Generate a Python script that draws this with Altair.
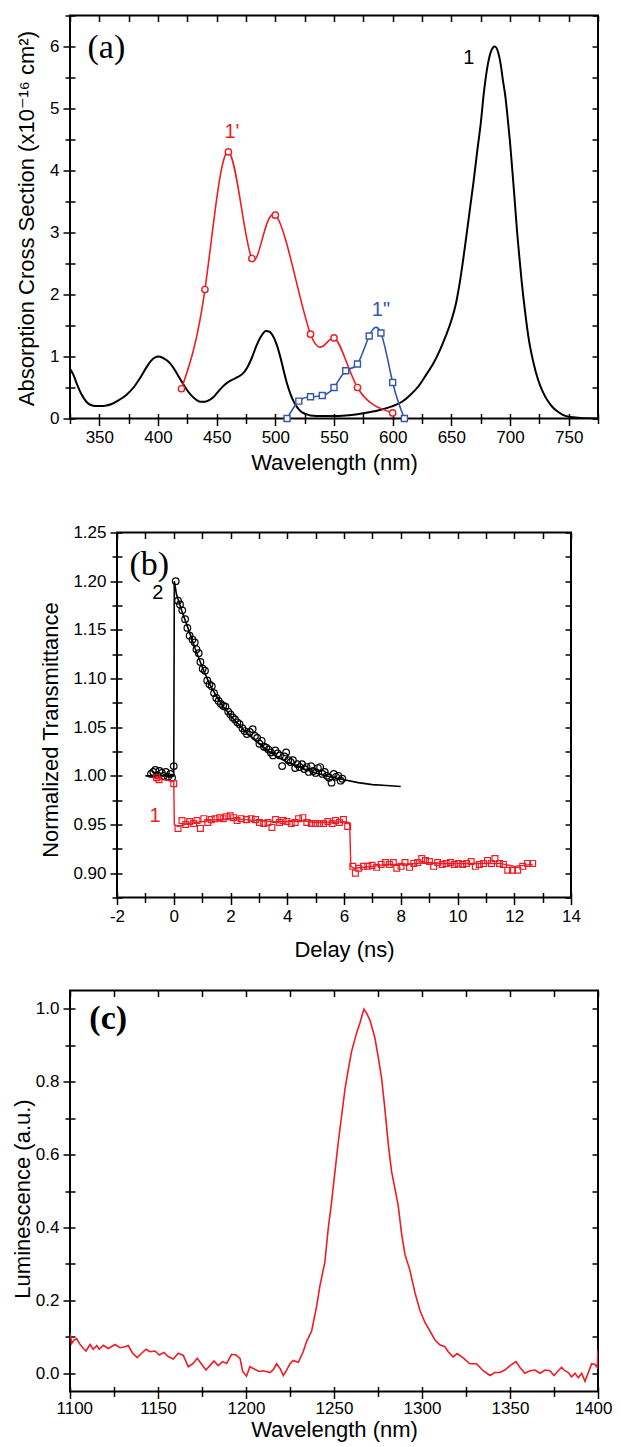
import altair as alt
import pandas as pd

FONT = "Liberation Sans, DejaVu Sans"
SERIF = "Liberation Serif"
RED = "#ee1c24"
BLUE = "#3557a8"

# ---------------- panel (a): absorption cross sections ----------------
a1_wl = [325, 328, 331, 334, 337, 340, 344, 348, 352, 356, 360, 366, 373, 380, 385, 390, 394, 398,
         400, 404, 408, 412, 416, 420, 424, 428, 432, 436, 440, 444, 448, 452, 456, 460, 464, 468,
         472, 476, 480, 484, 488, 492, 495, 498, 501, 504, 507, 510, 513, 516, 519, 522, 526, 530,
         540, 550, 560, 570, 580, 590, 600, 608, 615, 622, 629, 635, 640, 645, 650, 654, 657, 660,
         663, 666, 669, 672, 675, 678, 681, 684, 687, 690, 692, 694, 696, 698, 700, 702, 704, 706,
         708, 710, 713, 716, 720, 724, 728, 732, 736, 740, 745, 750, 760, 775]
a1_val = [0.80, 0.70, 0.55, 0.42, 0.32, 0.25, 0.21, 0.20, 0.20, 0.21, 0.23, 0.29, 0.38, 0.52, 0.66,
          0.82, 0.93, 0.99, 1.00, 0.98, 0.93, 0.85, 0.73, 0.60, 0.48, 0.38, 0.31, 0.27, 0.27, 0.30,
          0.36, 0.45, 0.53, 0.59, 0.63, 0.67, 0.72, 0.82, 0.98, 1.18, 1.33, 1.41, 1.40, 1.33, 1.20,
          1.01, 0.78, 0.56, 0.39, 0.26, 0.17, 0.11, 0.07, 0.05, 0.04, 0.04, 0.05, 0.07, 0.10, 0.14,
          0.20, 0.27, 0.38, 0.52, 0.72, 0.90, 1.09, 1.32, 1.58, 1.86, 2.17, 2.55, 2.97, 3.40, 3.83,
          4.30, 4.75, 5.30, 5.70, 5.93, 6.00, 5.90, 5.72, 5.45, 5.20, 4.85, 4.46, 4.00, 3.52, 3.02,
          2.60, 2.20, 1.70, 1.28, 0.90, 0.62, 0.43, 0.29, 0.19, 0.12, 0.06, 0.03, 0.01, 0.00]
a1p_wl = [420, 440, 460, 480, 500, 530, 550, 570, 600]
a1p_val = [0.48, 2.08, 4.30, 2.58, 3.28, 1.36, 1.30, 0.50, 0.09]
a1pp_wl = [510, 520, 530, 540, 550, 560, 570, 580, 590, 600, 610]
a1pp_val = [0.0, 0.28, 0.35, 0.37, 0.50, 0.77, 0.88, 1.33, 1.38, 0.58, 0.0]
a_lab_black = (["1"], [665], [5.82])
a_lab_red = (["1'"], [463], [4.62])
a_lab_blue = (['1"'], [590], [1.75])
a_panel = (["(a)"], [356], [5.98])

# ---------------- panel (b): transmittance vs delay ----------------
b2_t = [-0.80, -0.72, -0.65, -0.58, -0.50, -0.42, -0.35, -0.28, -0.20, -0.12, -0.06, 0.0, 0.07,
        0.15, 0.22, 0.30, 0.40, 0.48, 0.56, 0.66, 0.74, 0.80, 0.88, 0.94, 1.02, 1.10, 1.18, 1.26,
        1.34, 1.42, 1.50, 1.58, 1.66, 1.74, 1.82, 1.92, 2.00, 2.08, 2.16, 2.24, 2.32, 2.42, 2.50,
        2.58, 2.68, 2.78, 2.86, 2.94, 3.02, 3.10, 3.18, 3.26, 3.34, 3.42, 3.50, 3.58, 3.66, 3.74,
        3.82, 3.90, 3.96, 4.04, 4.12, 4.20, 4.28, 4.36, 4.44, 4.52, 4.60, 4.68, 4.76, 4.84, 4.92,
        5.00, 5.08, 5.16, 5.24, 5.32, 5.40, 5.48, 5.56, 5.64, 5.72, 5.80, 5.88, 5.94]
b2_val = [1.002, 1.004, 1.006, 1.001, 1.005, 1.003, 1.000, 1.004, 0.999, 1.002, 0.998, 1.010, 1.200,
          1.180, 1.176, 1.170, 1.161, 1.152, 1.144, 1.140, 1.137, 1.130, 1.126, 1.117, 1.110, 1.108,
          1.098, 1.094, 1.092, 1.085, 1.080, 1.077, 1.074, 1.072, 1.071, 1.066, 1.063, 1.060, 1.058,
          1.055, 1.053, 1.049, 1.046, 1.043, 1.045, 1.048, 1.041, 1.039, 1.033, 1.036, 1.030, 1.029,
          1.027, 1.024, 1.021, 1.026, 1.023, 1.021, 1.010, 1.020, 1.024, 1.016, 1.014, 1.016, 1.008,
          1.012, 1.009, 1.012, 1.007, 1.009, 1.004, 1.010, 1.005, 1.003, 1.008, 1.009, 1.002, 1.004,
          1.000, 0.998, 0.993, 1.002, 0.999, 1.000, 0.995, 0.997]
b2fit_t = [-1.0, 0.0, 0.02, 0.1, 0.3, 0.5, 0.75, 1.0, 1.25, 1.5, 1.75, 2.0, 2.5, 3.0, 3.5, 4.0,
           4.5, 5.0, 5.5, 6.0, 6.5, 7.0, 7.5, 8.0]
b2fit_val = [1.0, 1.0, 1.20, 1.186, 1.168, 1.152, 1.131, 1.112, 1.095, 1.082, 1.071, 1.062, 1.046,
             1.033, 1.022, 1.014, 1.008, 1.003, 0.999, 0.996, 0.993, 0.991, 0.990, 0.989]
b1_t = [-0.60, -0.52, 0.0, 0.15, 0.29, 0.42, 0.56, 0.70, 0.82, 0.94, 1.06, 1.20, 1.32, 1.46, 1.62,
        1.74, 1.85, 1.99, 2.11, 2.23, 2.38, 2.56, 2.73, 2.88, 3.02, 3.17, 3.32, 3.46, 3.59, 3.73,
        3.85, 3.99, 4.14, 4.28, 4.40, 4.55, 4.69, 4.85, 4.99, 5.14, 5.28, 5.43, 5.58, 5.70, 5.84,
        5.98, 6.13, 6.31, 6.40, 6.52, 6.69, 6.84, 6.99, 7.15, 7.31, 7.46, 7.60, 7.74, 7.86, 8.01,
        8.15, 8.31, 8.46, 8.60, 8.74, 8.87, 9.01, 9.16, 9.30, 9.46, 9.60, 9.75, 9.89, 10.03, 10.18,
        10.32, 10.48, 10.63, 10.77, 10.92, 11.06, 11.20, 11.32, 11.48, 11.62, 11.77, 11.94, 12.12,
        12.30, 12.47, 12.65]
b1_val = [0.998, 0.996, 0.992, 0.946, 0.954, 0.950, 0.953, 0.951, 0.954, 0.946, 0.956, 0.952, 0.955,
          0.956, 0.957, 0.956, 0.958, 0.959, 0.957, 0.954, 0.956, 0.955, 0.956, 0.955, 0.952, 0.951,
          0.952, 0.947, 0.955, 0.952, 0.954, 0.953, 0.951, 0.952, 0.956, 0.957, 0.952, 0.951, 0.951,
          0.951, 0.951, 0.953, 0.951, 0.954, 0.952, 0.955, 0.948, 0.907, 0.900, 0.905, 0.907, 0.907,
          0.908, 0.906, 0.909, 0.911, 0.909, 0.911, 0.905, 0.907, 0.911, 0.906, 0.910, 0.911, 0.915,
          0.913, 0.912, 0.907, 0.911, 0.909, 0.910, 0.911, 0.909, 0.910, 0.909, 0.910, 0.912, 0.907,
          0.909, 0.910, 0.913, 0.910, 0.915, 0.910, 0.909, 0.903, 0.903, 0.903, 0.907, 0.910, 0.910]
b1line_t = [-0.75, 0.0, 0.02, 0.15, 0.5, 1.0, 1.5, 2.0, 2.5, 3.0, 3.5, 4.0, 4.5, 5.0, 5.5, 6.0,
            6.2, 6.24, 6.35, 7.0, 7.5, 8.0, 8.5, 9.0, 9.5, 10.0, 10.5, 11.0, 11.5, 12.0, 12.65]
b1line_val = [0.998, 0.994, 0.950, 0.948, 0.951, 0.953, 0.955, 0.956, 0.955, 0.954, 0.953, 0.953,
              0.954, 0.952, 0.952, 0.953, 0.952, 0.907, 0.905, 0.907, 0.909, 0.909, 0.910, 0.911,
              0.910, 0.910, 0.910, 0.910, 0.910, 0.907, 0.909]
b_lab_black = (["2"], [-0.56], [1.188])
b_lab_red = (["1"], [-0.66], [0.959])
b_panel = (["(b)"], [-0.86], [1.2166])

# ---------------- panel (c): luminescence ----------------
c_wl = [1100, 1101, 1102.3, 1103.8, 1105.3, 1107.6, 1109.1, 1111.4, 1113.2, 1115.2, 1116.6, 1118.9,
        1121.8, 1125.6, 1128.4, 1130.7, 1133.1, 1135.6, 1138.2, 1140.7, 1143.2, 1145.4, 1148.3,
        1150.7, 1153.4, 1155.8, 1158.7, 1161.5, 1164.4, 1167.2, 1170, 1172.3, 1174.8, 1177.2,
        1179.5, 1181.8, 1184.2, 1186.7, 1189, 1191.8, 1194.3, 1196.6, 1198.1, 1200.3, 1202.2,
        1204.1, 1207.5, 1209.8, 1213.6, 1215.5, 1217.4, 1219.5, 1221.2, 1223, 1225, 1226.8, 1229.7,
        1232.5, 1234.4, 1237.3, 1240.1, 1242, 1244.8, 1246.7, 1248.6, 1250.5, 1252.4, 1254.3,
        1256.2, 1258.1, 1260, 1262.8, 1264.7, 1267, 1268.5, 1270.4, 1273.2, 1275.1, 1277, 1278.9,
        1280.8, 1282.7, 1284.6, 1286.5, 1288.4, 1290.3, 1293.1, 1296, 1298.8, 1301.6, 1304.5,
        1307.3, 1310.1, 1313, 1314.9, 1317.7, 1320, 1323.4, 1327.2, 1331, 1334.8, 1338.6, 1341.4,
        1344.3, 1347.1, 1350, 1353.4, 1355.7, 1358.5, 1361.4, 1364.2, 1367, 1369.9, 1372.7, 1375,
        1377.4, 1379.3, 1381.2, 1383.1, 1385, 1386.9, 1388.8, 1390.7, 1392.6, 1394.5, 1396.4,
        1398.3, 1399.6, 1400]
c_val = [0.110, 0.082, 0.091, 0.095, 0.082, 0.068, 0.061, 0.079, 0.066, 0.076, 0.066, 0.077, 0.068,
         0.079, 0.070, 0.072, 0.076, 0.055, 0.043, 0.055, 0.066, 0.059, 0.061, 0.050, 0.057, 0.046,
         0.039, 0.055, 0.049, 0.018, 0.027, 0.041, 0.025, 0.009, 0.021, 0.034, 0.021, 0.032, 0.027,
         0.052, 0.050, 0.041, 0.005, -0.008, 0.018, 0.013, 0.005, 0.007, 0.002, 0.010, 0.026, 0.012,
         -0.006, 0.008, 0.026, 0.035, 0.030, 0.059, 0.087, 0.116, 0.183, 0.240, 0.305, 0.396, 0.469,
         0.551, 0.633, 0.705, 0.778, 0.833, 0.883, 0.933, 0.960, 0.999, 0.988, 0.969, 0.921, 0.868,
         0.811, 0.726, 0.630, 0.554, 0.507, 0.459, 0.383, 0.326, 0.283, 0.221, 0.173, 0.140, 0.116,
         0.092, 0.078, 0.073, 0.059, 0.045, 0.054, 0.042, 0.026, 0.026, 0.007, -0.006, 0.002, 0.002,
         0.009, 0.021, 0.032, 0.016, 0.000, 0.007, 0.009, 0.000, 0.009, 0.007, -0.006, 0.007, 0.016,
         0.007, 0.002, -0.010, 0.000, -0.012, 0.000, -0.022, 0.002, 0.026, 0.024, 0.016, 0.064]
c_panel = (["(c)"], [1121.7], [0.971])

# ---------------- axis ticks ----------------
a_xticks = list(range(325, 776, 25))
a_yticks = [i * 0.5 for i in range(14)]
b_xticks = list(range(-2, 15))
b_yticks = [round(0.875 + 0.025 * i, 3) for i in range(16)]
c_xticks = list(range(1100, 1401, 25))
c_yticks = [round(0.1 * i, 1) for i in range(11)]


def df_xy(xs, ys):
    return pd.DataFrame({"x": xs, "y": ys, "i": list(range(len(xs)))})


def df_txt(spec):
    t, xs, ys = spec
    return pd.DataFrame({"t": t, "x": xs, "y": ys})


def main_axis(orient, values, test, label_expr, lp, tp, title, flush=False, **extra):
    return alt.Axis(
        orient=orient, values=values, title=title, labelExpr=label_expr,
        domain=False, grid=False, offset=-5, ticks=True, minExtent=0,
        tickSize={"condition": {"test": test, "value": 12}, "value": 10},
        tickColor="black", tickWidth=1.5, labelPadding=lp, titlePadding=tp,
        labelFlush=flush, labelOverlap=False,
        labelFont=FONT, labelFontSize=17, labelColor="black",
        titleFont=FONT, titleFontSize=22, titleFontWeight="normal", titleColor="black",
        **extra,
    )


def mirror_axis(orient, values):
    return alt.Axis(orient=orient, values=values, title=None, labels=False, domain=False,
                    grid=False, offset=-6, tickSize=6, tickColor="black", tickWidth=1.5,
                    minExtent=0)


def panel(layers, xdom, ydom, xvals, yvals, width, height):
    main = alt.layer(*layers)
    mir = alt.Chart(pd.DataFrame({"mx": [xdom[0]], "my": [ydom[0]]})).mark_point(
        opacity=0, size=1).encode(
        x=alt.X("mx:Q", scale=alt.Scale(domain=xdom, nice=False, zero=False),
                axis=mirror_axis("top", xvals)),
        y=alt.Y("my:Q", scale=alt.Scale(domain=ydom, nice=False, zero=False),
                axis=mirror_axis("right", yvals)),
    )
    return alt.layer(main, mir).resolve_scale(x="independent", y="independent").properties(
        width=width, height=height, view=alt.ViewBackground(stroke="black", strokeWidth=2))


def spacer(w, h):
    return alt.Chart(pd.DataFrame({"s": [0]})).mark_point(opacity=0, size=1).encode(
        x=alt.value(w / 2), y=alt.value(h / 2)
    ).properties(width=w, height=h, view=alt.ViewBackground(strokeOpacity=0, strokeWidth=0))


def text_layer(spec, X, Y, color, font=FONT, size=20, weight="normal"):
    return alt.Chart(df_txt(spec)).mark_text(
        font=font, fontSize=size, color=color, fontWeight=weight, align="center", baseline="middle"
    ).encode(x=X, y=Y, text="t:N")


# ---------- build panel (a) ----------
AX = alt.X("x:Q", scale=alt.Scale(domain=[325, 775], nice=False, zero=False),
           axis=main_axis("bottom", a_xticks, "datum.value % 50 === 0",
                          "datum.value % 50 === 0 ? format(datum.value, 'd') : ''", 4, 7,
                          "Wavelength (nm)"))
AY = alt.Y("y:Q", scale=alt.Scale(domain=[0, 6.5], nice=False, zero=False),
           axis=main_axis("left", a_yticks, "datum.value % 1 === 0",
                          "datum.value % 1 === 0 ? format(datum.value, 'd') : ''", 4, 11,
                          "Absorption Cross Section (x10\u207b\u00b9\u2076 cm\u00b2)",
                          titleX=-36.7, titleY=15, titleAngle=270, titleAlign="right",
                          titleBaseline="bottom"))
pa_layers = [
    alt.Chart(df_xy(a1_wl, a1_val)).mark_line(color="black", strokeWidth=2, interpolate="monotone",
                                              clip=True).encode(x=AX, y=AY, order="i:Q"),
    alt.Chart(df_xy(a1p_wl, a1p_val)).mark_line(color=RED, strokeWidth=1.6, interpolate="natural",
                                                clip=True).encode(x=AX, y=AY, order="i:Q"),
    alt.Chart(df_xy(a1p_wl, a1p_val)).mark_point(shape="circle", filled=True, fill="white",
                                                 stroke=RED, strokeWidth=1.4, size=40,
                                                 opacity=1).encode(x=AX, y=AY),
    alt.Chart(df_xy(a1pp_wl, a1pp_val)).mark_line(color=BLUE, strokeWidth=1.6, interpolate="natural",
                                                  clip=True).encode(x=AX, y=AY, order="i:Q"),
    alt.Chart(df_xy(a1pp_wl, a1pp_val)).mark_point(shape="square", filled=True, fill="white",
                                                   stroke=BLUE, strokeWidth=1.4, size=36,
                                                   opacity=1).encode(x=AX, y=AY),
    text_layer(a_lab_black, AX, AY, "black"),
    text_layer(a_lab_red, AX, AY, RED),
    text_layer(a_lab_blue, AX, AY, BLUE),
    text_layer(a_panel, AX, AY, "black", font=SERIF, size=34),
]
pa = panel(pa_layers, [325, 775], [0, 6.5], a_xticks, a_yticks, 528, 403)

# ---------- build panel (b) ----------
BX = alt.X("x:Q", scale=alt.Scale(domain=[-2, 14], nice=False, zero=False),
           axis=main_axis("bottom", b_xticks, "datum.value % 2 === 0",
                          "datum.value % 2 === 0 ? '' + datum.value : ''", 4, 15, "Delay (ns)"))
BY = alt.Y("y:Q", scale=alt.Scale(domain=[0.875, 1.25], nice=False, zero=False),
           axis=main_axis("left", b_yticks, "abs(datum.value * 20 - round(datum.value * 20)) < 0.001",
                          "abs(datum.value * 20 - round(datum.value * 20)) < 0.001 ? format(datum.value, '.2f') : ''",
                          4, 11, "Normalized Transmittance",
                          titleX=-59.4, titleY=197, titleAngle=270, titleAlign="center",
                          titleBaseline="bottom"))
pb_layers = [
    alt.Chart(df_xy(b2fit_t, b2fit_val)).mark_line(color="black", strokeWidth=1.6).encode(
        x=BX, y=BY, order="i:Q"),
    alt.Chart(df_xy(b2_t, b2_val)).mark_point(shape="circle", filled=False, color="black",
                                              strokeWidth=1.2, size=44, opacity=1).encode(x=BX, y=BY),
    alt.Chart(df_xy(b1line_t, b1line_val)).mark_line(color=RED, strokeWidth=1.4).encode(
        x=BX, y=BY, order="i:Q"),
    alt.Chart(df_xy(b1_t, b1_val)).mark_point(shape="square", filled=False, color=RED,
                                              strokeWidth=1.2, size=34, opacity=1).encode(x=BX, y=BY),
    text_layer(b_lab_black, BX, BY, "black"),
    text_layer(b_lab_red, BX, BY, RED),
    text_layer(b_panel, BX, BY, "black", font=SERIF, size=34),
]
pb = panel(pb_layers, [-2, 14], [0.875, 1.25], b_xticks, b_yticks, 454, 365)

# ---------- build panel (c) ----------
CX = alt.X("x:Q", scale=alt.Scale(domain=[1100, 1400], nice=False, zero=False),
           axis=main_axis("bottom", c_xticks, "datum.value % 50 === 0",
                          "datum.value % 50 === 0 ? format(datum.value, 'd') : ''", 2, 3,
                          "Wavelength (nm)", flush=True, labelFlushOffset=14))
CY = alt.Y("y:Q", scale=alt.Scale(domain=[-0.05, 1.05], nice=False, zero=False),
           axis=main_axis("left", c_yticks, "round(datum.value * 10) % 2 === 0",
                          "round(datum.value * 10) % 2 === 0 ? format(datum.value, '.1f') : ''",
                          4, 0, "Luminescence (a.u.)",
                          titleX=-41, titleY=208, titleAngle=270, titleAlign="center",
                          titleBaseline="bottom"))
pc_layers = [
    alt.Chart(df_xy(c_wl, c_val)).mark_line(color=RED, strokeWidth=1.6, clip=True).encode(
        x=CX, y=CY, order="i:Q"),
    text_layer(c_panel, CX, CY, "black", font=SERIF, size=34, weight="bold"),
]
pc = panel(pc_layers, [1100, 1400], [-0.05, 1.05], c_xticks, c_yticks, 528, 401)

row_a = alt.hconcat(spacer(4.1, 506.1), pa, spacing=0)
row_b = alt.hconcat(spacer(28.1, 455.6), pb, spacing=0)
row_c = alt.hconcat(spacer(0.5, 1), pc, spacing=0)

chart = alt.vconcat(row_a, row_b, row_c, spacing=0).properties(
    padding={"left": 0, "top": -2.5, "right": 0, "bottom": 0}
).configure(font=FONT).configure_view(stroke="black", strokeWidth=2)

chart.save("out.html", embed_options={"renderer": "svg", "actions": False})
